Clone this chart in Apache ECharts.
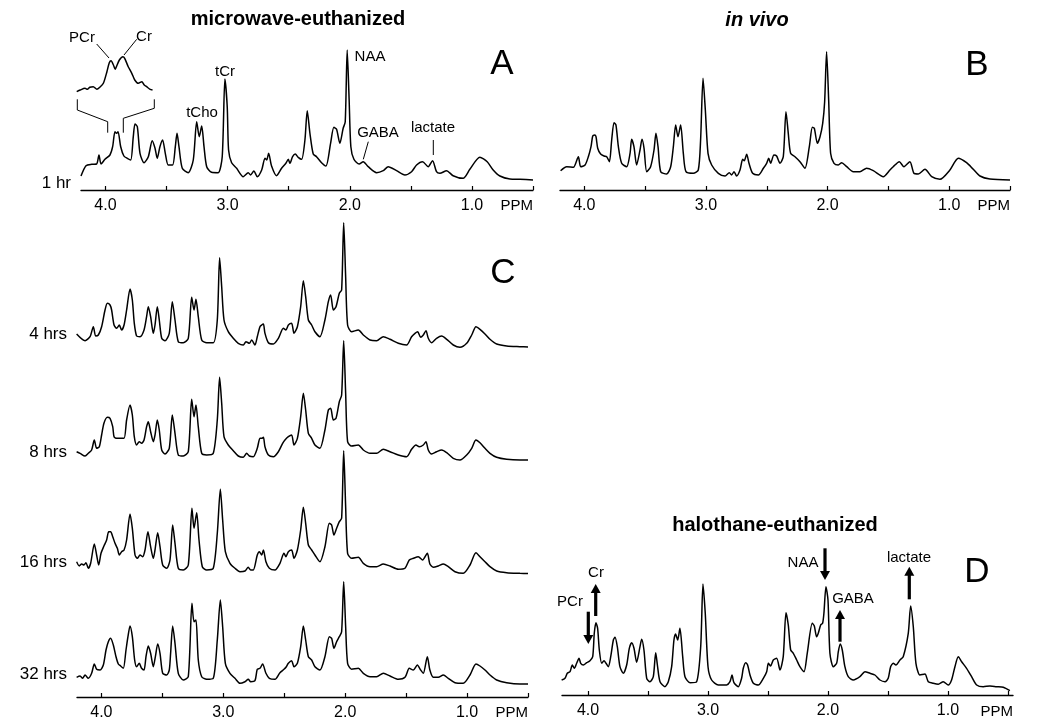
<!DOCTYPE html>
<html><head><meta charset="utf-8">
<script src="https://cdn.jsdelivr.net/npm/echarts@6/dist/echarts.min.js"></script>
<style>html,body{margin:0;padding:0;background:#fff}#c{width:1050px;height:725px}</style>
</head><body><div id="c"></div>
<script>
// ---- axis ticks ----
const tickValues = [0.5, 1, 1.5, 2, 2.5, 3, 3.5, 4];
const labelValues = [1, 2, 3, 4];
const axisName = 'PPM';

// ---- spectra: [ppm, intensity] ----
const specA = [[4.20,14],[4.159,24.3],[4.112,25.7],[4.072,26],[4.053,35],[4.036,26],[4.004,30.7],[3.963,35],[3.941,43.3],[3.922,58.3],[3.909,56.7],[3.897,58.3],[3.875,43.3],[3.849,34],[3.821,31.7],[3.793,30],[3.772,53.3],[3.758,66],[3.739,63.3],[3.717,36.7],[3.684,27.3],[3.649,33.3],[3.617,49.3],[3.594,41.7],[3.576,31.7],[3.554,43.3],[3.532,50],[3.510,36.7],[3.486,25],[3.450,25],[3.428,43.3],[3.414,56.7],[3.398,43.3],[3.371,21.7],[3.322,17.3],[3.281,30],[3.253,68.3],[3.232,53.3],[3.212,64],[3.193,43.3],[3.171,23.3],[3.131,17.7],[3.077,17.3],[3.044,33.3],[3.022,111],[3.003,83.3],[2.992,40],[2.967,27.3],[2.926,21.7],[2.872,13.3],[2.831,17.3],[2.812,15],[2.785,19],[2.757,13.3],[2.721,20],[2.694,31.7],[2.680,30],[2.664,36.7],[2.640,24],[2.599,14.3],[2.558,21.7],[2.523,26.7],[2.503,30.7],[2.490,26.7],[2.468,33.3],[2.446,36],[2.422,32.7],[2.394,30.7],[2.367,50],[2.348,79.3],[2.326,56.7],[2.299,36],[2.272,33.3],[2.231,27.3],[2.195,24],[2.157,46.7],[2.130,62.7],[2.108,60.7],[2.081,46.7],[2.054,61.7],[2.037,68.3],[2.021,140],[2.005,90],[1.991,43.3],[1.966,30.7],[1.923,26],[1.890,28.3],[1.849,23.3],[1.780,17.3],[1.726,19.3],[1.685,23.3],[1.617,19.3],[1.549,15],[1.494,18.3],[1.453,25],[1.404,28.3],[1.358,23.3],[1.322,29.3],[1.290,18.3],[1.262,16.7],[1.208,19.3],[1.154,14.3],[1.072,11.7],[1.017,20.7],[0.935,32.7],[0.875,28.3],[0.826,20],[0.771,14],[0.689,11],[0.607,10.7],[0.50,10]];

const specInset = [[3.981,1.3],[3.975,3],[3.967,4.7],[3.963,3.7],[3.959,5.7],[3.953,6.3],[3.947,3.7],[3.942,5.7],[3.936,9.7],[3.930,21.3],[3.926,30.3],[3.923,32.3],[3.919,28],[3.916,23.7],[3.914,26.3],[3.909,33],[3.903,36.3],[3.900,34.7],[3.894,26.3],[3.888,19.7],[3.883,13],[3.877,9.7],[3.871,11.3],[3.867,8],[3.863,6.3],[3.857,3.7],[3.853,3]];

const specB = [[4.195,19.3],[4.145,23.3],[4.090,22.7],[4.049,33.3],[4.030,23.3],[3.994,25],[3.967,33.3],[3.945,43.3],[3.931,54],[3.915,55],[3.904,53.3],[3.890,41.7],[3.866,36],[3.838,34],[3.816,33.3],[3.794,28.3],[3.775,50],[3.756,67.3],[3.740,65],[3.720,43.3],[3.693,26.7],[3.652,23.3],[3.624,36.7],[3.611,50.7],[3.592,43.3],[3.570,25],[3.542,40],[3.526,50.7],[3.509,41.7],[3.487,18.3],[3.455,23.3],[3.427,40],[3.411,56.7],[3.394,43.3],[3.372,18.3],[3.323,16],[3.290,23.3],[3.268,43.3],[3.249,65],[3.230,53.3],[3.208,65],[3.186,36.7],[3.164,18.3],[3.104,16.7],[3.063,20],[3.044,50],[3.024,111.7],[3.005,80],[2.983,36.7],[2.953,25],[2.898,16.7],[2.843,14],[2.808,17.3],[2.789,15],[2.769,18.3],[2.748,14],[2.720,20],[2.698,30.7],[2.685,29.3],[2.665,35.7],[2.646,26.7],[2.616,16.7],[2.569,15],[2.528,21.7],[2.501,26.7],[2.484,31.7],[2.468,26.7],[2.441,35],[2.419,34],[2.391,26.7],[2.364,33.3],[2.342,78.3],[2.323,56.7],[2.304,36.7],[2.268,33.3],[2.227,28.3],[2.186,21.7],[2.150,43.3],[2.125,62.7],[2.109,61.7],[2.084,46.7],[2.062,53.3],[2.040,66.7],[2.024,88.3],[2.008,138.3],[1.991,90],[1.975,36.7],[1.947,26.7],[1.912,25],[1.884,27.3],[1.843,23.3],[1.788,18.3],[1.734,18.3],[1.679,21.7],[1.624,19.3],[1.542,13.3],[1.487,20],[1.460,23.3],[1.410,28.3],[1.372,23.3],[1.323,28.3],[1.290,16.7],[1.254,16],[1.199,20.7],[1.144,13.3],[1.076,10.7],[0.994,20],[0.925,31.7],[0.857,27.3],[0.802,20.7],[0.747,14],[0.665,11],[0.500,10]];

const specC4 = [[4.203,26],[4.134,19.3],[4.093,23.3],[4.066,33.3],[4.047,24],[4.025,25],[3.998,33.3],[3.970,50],[3.951,56.7],[3.929,55],[3.916,50],[3.896,35],[3.875,31.7],[3.853,35],[3.834,30],[3.814,35],[3.793,50],[3.765,71],[3.746,60],[3.730,36.7],[3.711,24],[3.683,23.3],[3.650,30],[3.629,43.3],[3.615,53.3],[3.596,43.3],[3.574,26.7],[3.560,35],[3.541,53.3],[3.525,40],[3.505,21.7],[3.478,19.3],[3.443,26.7],[3.418,58.3],[3.396,40],[3.369,18.3],[3.328,17.3],[3.287,21.7],[3.259,62.7],[3.240,50],[3.224,60.7],[3.205,43.3],[3.177,20],[3.136,17.3],[3.082,17.3],[3.049,40],[3.030,102.3],[3.013,73.3],[2.994,40],[2.959,28.3],[2.918,21.7],[2.877,16.7],[2.836,15],[2.814,18.3],[2.786,16.7],[2.767,20],[2.740,15],[2.721,23.3],[2.699,33.3],[2.685,35],[2.671,36],[2.658,26.7],[2.630,17.3],[2.589,16],[2.548,21.7],[2.507,31.7],[2.486,30],[2.466,35],[2.439,36.7],[2.420,26.7],[2.392,33.3],[2.365,53.3],[2.343,79.3],[2.324,63.3],[2.302,40],[2.275,35],[2.248,28.3],[2.207,23.3],[2.166,40],[2.138,58.3],[2.119,65],[2.097,50],[2.075,53.3],[2.048,66.7],[2.029,70],[2.012,137.3],[1.996,83.3],[1.980,35],[1.947,28.3],[1.892,30],[1.851,25],[1.796,20],[1.742,19.3],[1.687,23.3],[1.632,20.7],[1.564,16.7],[1.496,15],[1.455,23.3],[1.427,26.7],[1.405,28.3],[1.381,22.7],[1.359,25],[1.337,29.3],[1.318,21.7],[1.291,17.3],[1.250,21.7],[1.208,24],[1.167,20.7],[1.113,15],[1.058,12.7],[1.003,16.7],[0.962,25],[0.927,33.3],[0.894,30.7],[0.853,26],[0.812,20.7],[0.757,16],[0.675,14],[0.566,13.3],[0.500,13]];

const specC8 = [[4.203,20.3],[4.175,18.7],[4.134,16],[4.107,18.7],[4.080,22],[4.058,32],[4.039,23.7],[4.017,25.3],[3.998,37],[3.979,48.7],[3.951,54.7],[3.929,53.7],[3.907,45.3],[3.896,35.3],[3.875,33.7],[3.847,33.7],[3.814,33.7],[3.793,52],[3.765,67],[3.746,57],[3.730,35.3],[3.711,27],[3.689,30.3],[3.670,28.7],[3.650,32],[3.629,45.3],[3.615,50.3],[3.596,40.3],[3.574,30.3],[3.560,37],[3.541,52],[3.525,42],[3.505,22],[3.478,18],[3.443,23.7],[3.418,57],[3.396,38.7],[3.369,17],[3.328,16],[3.287,20.3],[3.259,72.7],[3.240,55.3],[3.224,67],[3.205,45.3],[3.177,18.7],[3.136,17],[3.082,18.7],[3.049,52],[3.030,94.7],[3.013,68.7],[2.994,35.3],[2.959,27],[2.918,21.3],[2.877,16],[2.836,14.7],[2.808,18.7],[2.786,16],[2.754,15.3],[2.721,23.7],[2.699,33.7],[2.685,33.7],[2.671,34.7],[2.658,25.3],[2.630,17],[2.589,15.3],[2.548,20.3],[2.513,28.7],[2.494,32],[2.466,35.3],[2.439,37],[2.420,27],[2.392,33.7],[2.365,55.3],[2.343,78.7],[2.324,62],[2.302,38.7],[2.275,33.7],[2.248,27],[2.207,23.7],[2.166,42],[2.138,62],[2.119,63.7],[2.097,52],[2.075,53.7],[2.048,70.3],[2.029,77],[2.012,131.3],[1.996,78.7],[1.980,30.3],[1.947,26],[1.892,27],[1.851,22],[1.796,18.7],[1.742,18.7],[1.687,22.7],[1.632,20.3],[1.564,17],[1.496,15.3],[1.455,22.7],[1.419,27],[1.392,25.3],[1.359,27],[1.337,30.3],[1.318,22],[1.291,18],[1.250,20.3],[1.208,22],[1.167,19.3],[1.113,13.7],[1.058,12],[1.003,17],[0.962,23.7],[0.927,32],[0.894,29.3],[0.853,23.7],[0.812,18.7],[0.757,14.7],[0.675,12.7],[0.566,12],[0.500,12]];

const specC16 = [[4.203,23.3],[4.181,19],[4.162,21],[4.143,20],[4.126,22.3],[4.107,16.7],[4.088,21.7],[4.058,41],[4.039,30],[4.022,20],[4.003,31.7],[3.979,39],[3.957,45],[3.940,53.3],[3.924,53.3],[3.907,48.3],[3.888,41.7],[3.869,36.7],[3.853,30],[3.834,33.3],[3.814,35],[3.793,45],[3.765,71],[3.746,56.7],[3.724,30],[3.705,26.7],[3.683,30],[3.661,28.3],[3.642,35],[3.618,53.3],[3.596,38.3],[3.574,26.7],[3.560,35],[3.538,52.3],[3.519,38.3],[3.497,20],[3.464,16.7],[3.437,25],[3.415,60],[3.396,41.7],[3.369,16.7],[3.328,15],[3.287,20],[3.257,76.7],[3.240,56.7],[3.218,72.3],[3.199,45],[3.172,18.3],[3.136,15],[3.082,16.7],[3.049,51.7],[3.024,95.7],[3.005,65],[2.983,33.3],[2.945,21.7],[2.904,16.7],[2.863,13.3],[2.822,14],[2.795,17.7],[2.775,15],[2.754,15],[2.721,30],[2.704,33.3],[2.685,30],[2.671,35],[2.650,23.3],[2.622,16.7],[2.576,15],[2.535,21.7],[2.502,31.7],[2.486,28.3],[2.466,33.3],[2.439,35],[2.420,26.7],[2.392,35],[2.365,55],[2.343,77.7],[2.324,61.7],[2.302,40],[2.275,35],[2.248,30],[2.207,23.3],[2.166,38.3],[2.130,61.7],[2.111,60],[2.092,50],[2.070,56.7],[2.048,63.3],[2.029,66.7],[2.012,134.3],[1.996,78.3],[1.980,31.7],[1.947,26.7],[1.892,27.7],[1.851,21.7],[1.796,18.3],[1.742,18.3],[1.687,21],[1.632,19],[1.564,15.7],[1.509,16.7],[1.474,25],[1.441,26.7],[1.400,28.3],[1.365,25],[1.326,31.7],[1.305,21],[1.277,17.7],[1.236,19],[1.195,21],[1.154,18.3],[1.099,13.3],[1.031,11.7],[0.976,20],[0.927,32.3],[0.894,28.3],[0.853,23.3],[0.812,18.3],[0.757,14],[0.675,12.3],[0.566,11.7],[0.500,11.5]];

const specC32 = [[4.203,19.7],[4.175,21],[4.154,18.7],[4.134,22],[4.107,18.7],[4.080,23.7],[4.058,33],[4.039,27.7],[4.011,27],[3.984,32],[3.962,47],[3.943,55.3],[3.924,58.7],[3.902,52],[3.880,40.3],[3.861,33],[3.842,31],[3.820,28.7],[3.798,47],[3.782,60.3],[3.765,71],[3.746,60.3],[3.727,37],[3.711,30.3],[3.689,33.7],[3.670,28.7],[3.650,27],[3.634,40.3],[3.615,51],[3.596,43.7],[3.574,30.3],[3.557,40.3],[3.538,53],[3.519,43.7],[3.497,23.7],[3.464,22],[3.443,27],[3.432,43.7],[3.415,71],[3.396,53.7],[3.369,23.7],[3.328,17],[3.287,20.3],[3.257,93.7],[3.240,75.3],[3.224,77],[3.205,37],[3.177,20.3],[3.136,17.7],[3.082,18.7],[3.049,57],[3.024,97],[3.005,70.3],[2.983,33.7],[2.945,23.7],[2.904,18.7],[2.863,13.7],[2.822,15.3],[2.795,17.7],[2.775,15.3],[2.740,16.3],[2.721,27.7],[2.699,28.7],[2.677,33],[2.650,23.7],[2.622,18.7],[2.576,17.7],[2.535,24.3],[2.502,27.7],[2.486,29.7],[2.466,33.7],[2.439,36.3],[2.420,30.3],[2.392,33.7],[2.365,50.3],[2.343,71],[2.324,57],[2.302,40.3],[2.275,37],[2.248,30.3],[2.207,27],[2.166,40.3],[2.130,60.3],[2.111,58.7],[2.092,48.7],[2.070,55.3],[2.048,60.3],[2.029,65.3],[2.012,115.3],[1.996,70.3],[1.980,33.7],[1.947,27.7],[1.892,28.7],[1.851,23.7],[1.796,20.3],[1.742,20.3],[1.687,23.7],[1.632,21],[1.564,17.7],[1.509,19.7],[1.474,28.7],[1.441,27],[1.408,32],[1.381,27],[1.359,23.7],[1.326,40.3],[1.305,27],[1.277,19.7],[1.236,19.7],[1.195,22],[1.154,18.7],[1.099,14.3],[1.031,13.7],[0.976,22],[0.927,33],[0.894,31],[0.853,27],[0.812,22],[0.757,17],[0.675,14.3],[0.566,13],[0.500,13]];

const specD = [[4.220,15],[4.192,16.7],[4.173,21.7],[4.150,23.3],[4.131,30],[4.114,26.7],[4.095,31.7],[4.075,36.7],[4.061,31.7],[4.039,30],[4.011,32.3],[3.984,34.3],[3.961,38.3],[3.948,61.7],[3.934,72.3],[3.920,66.7],[3.906,45],[3.886,31.7],[3.867,34.3],[3.850,31.7],[3.831,28.3],[3.811,38.3],[3.789,55],[3.775,57.7],[3.756,48.3],[3.734,28.3],[3.706,21.7],[3.678,30],[3.656,46.7],[3.636,52.3],[3.617,46.7],[3.595,32.7],[3.567,48.3],[3.553,55.7],[3.534,45],[3.511,16.7],[3.484,13.3],[3.456,18.3],[3.436,42.3],[3.422,30],[3.400,13.3],[3.359,8.3],[3.331,13.3],[3.303,28.3],[3.284,55],[3.270,61],[3.253,55],[3.234,66.7],[3.211,38.3],[3.192,18.3],[3.150,12.3],[3.095,13.3],[3.061,48.3],[3.042,111],[3.023,81.7],[3.000,28.3],[2.970,15],[2.914,10],[2.845,10],[2.817,13.3],[2.800,20],[2.784,12.3],[2.748,8.3],[2.720,16.7],[2.706,26.7],[2.686,32.3],[2.670,30],[2.650,20],[2.622,11.7],[2.581,10],[2.539,16.7],[2.511,23.3],[2.497,31.7],[2.478,29],[2.456,35],[2.428,36.7],[2.400,25],[2.373,38.3],[2.350,82.3],[2.331,70],[2.311,45],[2.289,41.7],[2.261,35],[2.234,28.3],[2.200,23.3],[2.173,41.7],[2.131,71.7],[2.114,69],[2.095,58.3],[2.081,61.7],[2.061,70],[2.045,71.7],[2.034,81.7],[2.017,108.3],[2.000,95],[1.984,41.7],[1.956,28.3],[1.928,31.7],[1.914,43.3],[1.898,51],[1.881,45],[1.859,28.3],[1.831,18.3],[1.789,15],[1.734,18.3],[1.692,23.3],[1.650,21.7],[1.609,20],[1.567,15],[1.525,13.3],[1.498,16.7],[1.478,28.3],[1.456,31.7],[1.434,30],[1.400,35],[1.373,38.3],[1.331,61.7],[1.311,89],[1.289,68.3],[1.267,31.7],[1.234,20],[1.192,21],[1.164,13.3],[1.123,11.7],[1.081,10.7],[1.039,13.3],[0.998,10],[0.970,15],[0.942,28.3],[0.914,38.3],[0.886,33.3],[0.845,26.7],[0.803,18.3],[0.761,10],[0.706,8.3],[0.650,9],[0.595,8.3],[0.539,7.7],[0.484,4.3]];

// ---- text ----
const titleA = 'microwave-euthanized';
const titleB = 'in vivo';
const titleD = 'halothane-euthanized';
const timeLabels = ['1 hr', '4 hrs', '8 hrs', '16 hrs', '32 hrs'];

const FONT = '"Liberation Sans", Arial, Helvetica, sans-serif';
const chart = echarts.init(document.getElementById('c'), null, {renderer: 'canvas'});

// grid layout (pixels)
const grids = [
  {left: 81,   top: 40,  width: 452, height: 150},   // 0 A
  {left: 77.3, top: 53,  width: 77,  height: 40},    // 1 inset
  {left: 560,  top: 40,  width: 450, height: 150},   // 2 B
  {left: 77,   top: 210, width: 451, height: 150},   // 3 C4
  {left: 77,   top: 322, width: 451, height: 150},   // 4 C8
  {left: 77,   top: 435, width: 451, height: 150},   // 5 C16
  {left: 77,   top: 547, width: 451, height: 150},   // 6 C32
  {left: 562,  top: 545, width: 451, height: 150}    // 7 D
];
const ranges = [[0.5,4.2],[3.85,3.98],[0.5,4.2],[0.5,4.2],[0.5,4.2],[0.5,4.2],[0.5,4.2],[0.458,4.217]];
const yMax = [150, 40, 150, 150, 150, 150, 150, 150];
const visibleX = [0, 2, 6, 7];

const xAxes = grids.map((g, i) => {
  const vis = visibleX.includes(i);
  return {
    gridIndex: i, type: 'value', inverse: true, min: ranges[i][0], max: ranges[i][1],
    show: vis,
    axisLine: {show: vis, onZero: false, lineStyle: {color: '#000', width: 1.4}},
    axisTick: {show: vis, inside: true, length: 4, customValues: tickValues, lineStyle: {color: '#000', width: 1.2}},
    axisLabel: {show: vis, customValues: labelValues, color: '#000', fontSize: 16, fontFamily: FONT, margin: 8,
      formatter: v => Number(v).toFixed(1)},
    splitLine: {show: false}
  };
});
const yAxes = grids.map((g, i) => ({gridIndex: i, type: 'value', min: 0, max: yMax[i], show: false}));

const specs = [specA, specInset, specB, specC4, specC8, specC16, specC32, specD];
const series = specs.map((d, i) => ({
  type: 'line', xAxisIndex: i, yAxisIndex: i, data: d, symbol: 'none', showSymbol: false,
  smooth: 0.25, lineStyle: {color: '#000', width: 1.5}, silent: true, clip: false
}));

function txt(text, x, y, size, opts) {
  opts = opts || {};
  return {type: 'text', x: x, y: y, silent: true, style: {text: text, fill: '#000',
    font: (opts.style || '') + ' ' + (opts.weight || 'normal') + ' ' + size + 'px ' + FONT,
    align: opts.align || 'center', verticalAlign: 'middle', textAlign: opts.align || 'center', textVerticalAlign: 'middle'}};
}
function pline(points, w) {
  return {type: 'polyline', silent: true, shape: {points: points}, style: {stroke: '#000', lineWidth: w || 1, fill: null}};
}
function arrow(x, yTail, yHead) {
  const dir = yHead > yTail ? 1 : -1;
  const hl = 9, hw = 5;
  return [
    pline([[x, yTail], [x, yHead - dir * (hl - 1)]], 3.2),
    {type: 'polygon', silent: true, shape: {points: [[x - hw, yHead - dir * hl], [x + hw, yHead - dir * hl], [x, yHead]]}, style: {fill: '#000'}}
  ];
}

const graphics = [
  // titles and panel letters
  txt(titleA, 298, 19, 20, {weight: 'bold'}),
  txt(titleB, 757, 20, 20, {weight: 'bold', style: 'italic'}),
  txt(titleD, 775, 525, 20, {weight: 'bold'}),
  txt('A', 502, 64, 35), txt('B', 977, 65, 35), txt('C', 503, 273, 35), txt('D', 977, 572, 35),
  // time labels
  txt(timeLabels[0], 71, 183, 17, {align: 'right'}),
  txt(timeLabels[1], 67, 334, 17, {align: 'right'}),
  txt(timeLabels[2], 67, 452, 17, {align: 'right'}),
  txt(timeLabels[3], 67, 562, 17, {align: 'right'}),
  txt(timeLabels[4], 67, 674, 17, {align: 'right'}),
  // PPM names
  txt(axisName, 533, 206, 15, {align: 'right'}),
  txt(axisName, 1010, 206, 15, {align: 'right'}),
  txt(axisName, 528, 713, 15, {align: 'right'}),
  txt(axisName, 1013, 712, 15, {align: 'right'}),
  // panel A annotations
  txt('PCr', 82, 38, 15), txt('Cr', 144, 37, 15),
  pline([[96.7, 44], [109, 58]]), pline([[136.7, 39.3], [124, 55]]),
  pline([[77.3, 99.3], [77.3, 110], [107.7, 121.7], [107.7, 132.7]]),
  pline([[154.3, 99.3], [154.3, 108.3], [123.3, 118.3], [123.3, 132.7]]),
  txt('tCho', 202, 113, 15), txt('tCr', 225, 72, 15), txt('NAA', 370, 57, 15),
  txt('GABA', 378, 133, 15), pline([[368.3, 141.7], [363.3, 159.3]]),
  txt('lactate', 433, 128, 15), pline([[433.3, 140], [433.3, 155]]),
  // panel D annotations
  txt('PCr', 570, 602, 15), txt('Cr', 596, 573, 15), txt('NAA', 803, 563, 15),
  txt('GABA', 853, 599, 15), txt('lactate', 909, 558, 15)
].concat(arrow(588.3, 611.7, 644), arrow(595.7, 616, 584), arrow(825, 548.3, 580),
         arrow(840, 641.7, 610), arrow(909.3, 599.3, 566.7));

chart.setOption({
  animation: false,
  backgroundColor: '#fff',
  grid: grids.map(g => Object.assign({containLabel: false, outerBoundsMode: 'none'}, g)),
  xAxis: xAxes,
  yAxis: yAxes,
  series: series,
  graphic: graphics
});
</script>
</body></html>
